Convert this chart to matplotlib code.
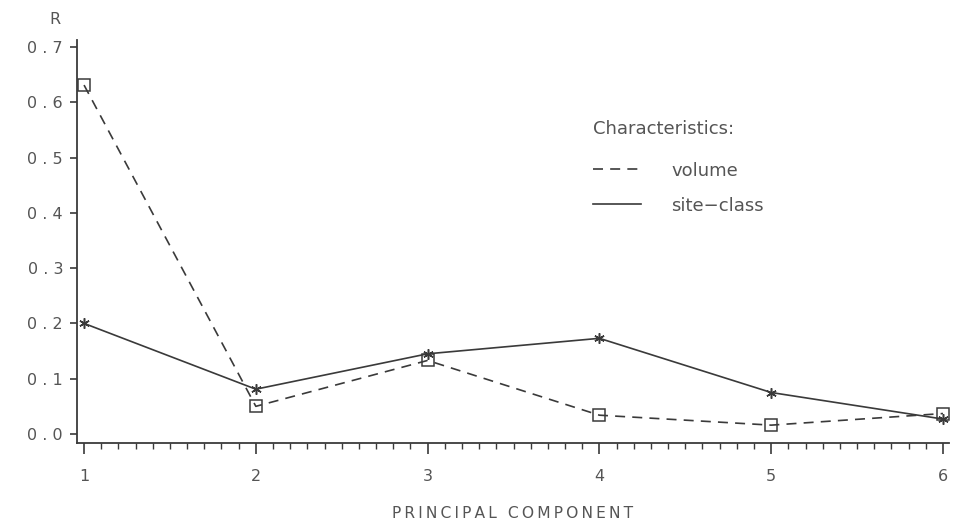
import matplotlib
matplotlib.use("Agg")
import matplotlib.pyplot as plt
from matplotlib.ticker import MultipleLocator, FixedLocator, FuncFormatter
from matplotlib.lines import Line2D

# ---- data ----
components = [1, 2, 3, 4, 5, 6]
volume = [0.631, 0.050, 0.133, 0.034, 0.016, 0.037]
site_class = [0.200, 0.081, 0.145, 0.173, 0.075, 0.027]
y_ticks = [0.0, 0.1, 0.2, 0.3, 0.4, 0.5, 0.6, 0.7]
x_ticks = [1, 2, 3, 4, 5, 6]
series_labels = ["volume", "site\u2212class"]
legend_title = "Characteristics:"
x_label = "PRINCIPAL COMPONENT"
y_label = "R"

TXT = "#555555"
LIN = "#3a3a3a"
FS = 11.5
LFS = 13

plt.rcParams['font.family'] = ['DejaVu Sans']

fig = plt.figure(figsize=(9.66, 5.26), dpi=100)
W, H = 966, 526
ax = fig.add_axes([77 / W, 1 - 443 / H, (949 - 77) / W, (443 - 40) / H])

LW = 1.2
DASH = (6.0, 4.3)
ax.plot(components, volume, color=LIN, lw=LW, dashes=DASH,
        marker='s', markersize=8.2, markerfacecolor='none',
        markeredgecolor=LIN, markeredgewidth=1.1)
ax.plot(components, site_class, color=LIN, lw=LW,
        marker=(6, 2, 0), markersize=7.5, markeredgecolor=LIN,
        markeredgewidth=1.1)

ax.set_xlim(0.959, 6.035)
ax.set_ylim(-0.0163, 0.7125)

for s in ['top', 'right']:
    ax.spines[s].set_visible(False)
for s in ['left', 'bottom']:
    ax.spines[s].set_color(LIN)
    ax.spines[s].set_linewidth(1.3)

ax.xaxis.set_major_locator(FixedLocator(x_ticks))
ax.xaxis.set_minor_locator(MultipleLocator(0.1))
ax.yaxis.set_major_locator(FixedLocator(y_ticks))
ax.yaxis.set_major_formatter(FuncFormatter(lambda v, p: " . ".join(f"{v:.1f}".split("."))))
ax.xaxis.set_major_formatter(FuncFormatter(lambda v, p: f"{int(round(v))}"))

ax.tick_params(axis='x', which='major', direction='out', length=8, width=1.2,
               color=LIN, pad=11, labelsize=FS, labelcolor=TXT)
ax.tick_params(axis='x', which='minor', direction='out', length=4.3, width=1.0,
               color=LIN)
ax.tick_params(axis='y', which='major', direction='out', length=5, width=1.2,
               color=LIN, pad=5, labelsize=FS, labelcolor=TXT)

spaced_label = "\u2009".join(x_label)
fig.text(513 / W, 1 - 513 / H, spaced_label, ha='center', va='center',
         fontsize=11.2, color=TXT)
fig.text(55 / W, 1 - 20 / H, y_label, ha='center', va='center',
         fontsize=FS, color=TXT)

handles = [Line2D([], [], color=LIN, lw=LW, dashes=DASH),
           Line2D([], [], color=LIN, lw=LW)]
leg = ax.legend(handles, series_labels, title=legend_title, loc='upper left',
                bbox_to_anchor=(593 / W, 1 - 120 / H), bbox_transform=fig.transFigure,
                frameon=False, fontsize=LFS, title_fontsize=LFS, alignment='left',
                handlelength=2.67, handletextpad=1.65, labelspacing=0.95,
                borderpad=0, borderaxespad=0)
for t in leg.get_texts():
    t.set_color(TXT)
leg.get_title().set_color(TXT)
leg._legend_box.sep = 17

fig.savefig("out.png", dpi=100)
